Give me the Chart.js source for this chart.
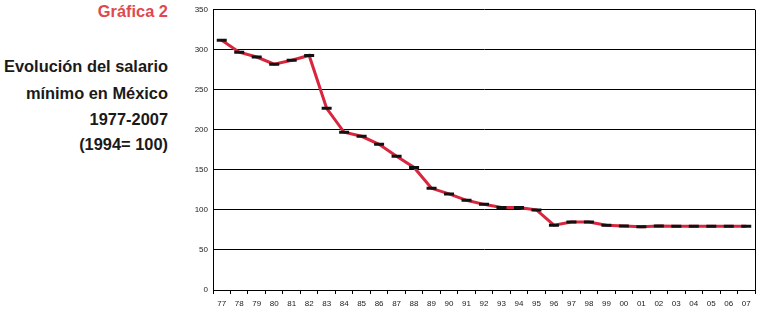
<!DOCTYPE html>
<html>
<head>
<meta charset="utf-8">
<script src="https://cdn.jsdelivr.net/npm/chart.js@4/dist/chart.umd.min.js"></script>
<style>
  html, body { margin: 0; padding: 0; background: #fff; }
  body { width: 763px; height: 316px; position: relative; overflow: hidden; font-family: "Liberation Sans", Arial, sans-serif; }
  #wrap { position: absolute; left: 0; top: 0; width: 763px; height: 316px; }
  .ttl { position: absolute; right: 595px; text-align: right; font-weight: bold; font-size: 16.4px; white-space: nowrap; color: #1a1a1a; }
  .red { color: #e0474f; }
</style>
</head>
<body>
<div class="ttl red" style="top:2px">Gráfica 2</div>
<div class="ttl" style="top:57px">Evolución del salario</div>
<div class="ttl" style="top:84px">mínimo en México</div>
<div class="ttl" style="top:110px">1977-2007</div>
<div class="ttl" style="top:135px">(1994= 100)</div>
<div id="wrap"><canvas id="c" width="763" height="316"></canvas></div>
<script>
const years = ['77','78','79','80','81','82','83','84','85','86','87','88','89','90','91','92',
  '93','94','95','96','97','98','99','00','01','02','03','04','05','06','07'];
const salario = [312, 297, 291, 282, 287, 293, 227, 197, 192, 182, 167, 153, 127, 120, 112, 107,
  103, 103, 100, 81, 85, 85, 81, 80, 79, 80, 79.5, 79.5, 79.5, 79.5, 79.5];
const yTicks = [0, 50, 100, 150, 200, 250, 300, 350];

// draws the right-hand frame edge of the plot area
const rightEdge = {
  id: 'rightEdge',
  afterDraw(chart) {
    const a = chart.chartArea, ctx = chart.ctx;
    ctx.save();
    ctx.strokeStyle = '#000';
    ctx.lineWidth = 1;
    ctx.beginPath();
    ctx.moveTo(Math.round(a.right) + 0.5, a.top);
    ctx.lineTo(Math.round(a.right) + 0.5, a.bottom);
    ctx.stroke();
    ctx.restore();
  }
};

new Chart(document.getElementById('c'), {
  type: 'line',
  data: {
    labels: years,
    datasets: [{
      data: salario,
      borderColor: '#d7263d',
      borderWidth: 3,
      tension: 0,
      pointStyle: 'line',
      pointRadius: 5,
      pointBorderWidth: 3,
      pointBorderColor: '#111',
      pointBackgroundColor: '#111',
    }],
  },
  options: {
    responsive: false,
    animation: false,
    devicePixelRatio: 1,
    layout: { padding: { left: 190, right: 6, top: 9, bottom: 0 } },
    plugins: { legend: { display: false }, tooltip: { enabled: false } },
    scales: {
      x: {
        offset: true,
        grid: { display: true, drawOnChartArea: false, drawTicks: true, tickLength: 4, color: '#000', offset: true },
        border: { display: true, color: '#000', width: 1 },
        ticks: { color: '#222', font: { family: 'Liberation Sans', size: 8 }, padding: 5, maxRotation: 0, autoSkip: false },
        afterFit: (s) => { s.height = 26; },
      },
      y: {
        min: 0,
        max: 350,
        afterBuildTicks: (s) => { s.ticks = yTicks.map(v => ({ value: v })); },
        grid: { color: '#000', lineWidth: 1, drawTicks: false },
        border: { display: true, color: '#000', width: 1 },
        ticks: { color: '#222', font: { family: 'Liberation Sans', size: 8 }, padding: 5 },
        afterFit: (s) => { s.width = 23; },
      },
    },
  },
  plugins: [rightEdge],
});
</script>
</body>
</html>
